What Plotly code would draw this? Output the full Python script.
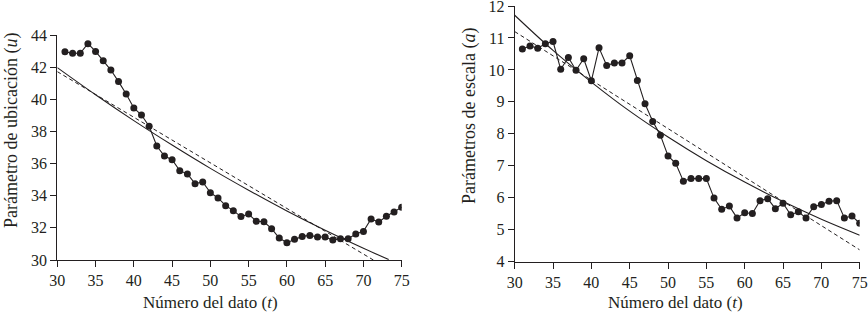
import plotly.graph_objects as go

# ---- data ----
t = list(range(31, 76))
u_vals = [42.96, 42.86, 42.86, 43.46, 42.98, 42.40, 41.82, 41.10, 40.33, 39.46,
          39.02, 38.32, 37.09, 36.47, 36.24, 35.56, 35.35, 34.75, 34.85, 34.19,
          33.86, 33.38, 33.07, 32.70, 32.86, 32.41, 32.38, 31.95, 31.37, 31.08,
          31.29, 31.47, 31.53, 31.43, 31.43, 31.24, 31.33, 31.33, 31.62, 31.78,
          32.55, 32.36, 32.72, 32.99, 33.28]
a_vals = [10.655, 10.75, 10.68, 10.82, 10.89, 10.02, 10.39, 9.99, 10.35, 9.66,
          10.69, 10.14, 10.22, 10.22, 10.44, 9.67, 8.94, 8.39, 7.96, 7.31,
          7.08, 6.52, 6.60, 6.60, 6.60, 5.99, 5.64, 5.74, 5.37, 5.53,
          5.51, 5.91, 5.97, 5.66, 5.83, 5.47, 5.56, 5.37, 5.72, 5.79,
          5.89, 5.91, 5.37, 5.43, 5.20]

u_fit_t = [30, 35, 40, 45, 50, 55, 60, 65, 70, 73.3]
u_fit = [41.97, 40.28, 38.67, 37.15, 35.70, 34.34, 33.05, 31.85, 30.73, 30.03]
u_lin_t = [30, 71.3]
u_lin = [41.72, 30.0]

a_fit_t = [30, 35, 40, 45, 50, 55, 60, 65, 70, 75]
a_fit = [11.71, 10.61, 9.62, 8.71, 7.90, 7.16, 6.49, 5.88, 5.33, 4.83]
a_lin_t = [30, 75]
a_lin = [11.20, 4.37]

x_ticks = [30, 35, 40, 45, 50, 55, 60, 65, 70, 75]
u_ticks = [30, 32, 34, 36, 38, 40, 42, 44]
a_ticks = [4, 5, 6, 7, 8, 9, 10, 11, 12]

INK = "#231f20"
FONT = "Liberation Serif"

fig = go.Figure()

# left panel
fig.add_trace(go.Scatter(x=u_fit_t, y=u_fit, mode="lines", line=dict(color=INK, width=1.1, shape="spline"),
                         xaxis="x", yaxis="y", showlegend=False))
fig.add_trace(go.Scatter(x=u_lin_t, y=u_lin, mode="lines", line=dict(color=INK, width=1, dash="4px,3px"),
                         xaxis="x", yaxis="y", showlegend=False))
fig.add_trace(go.Scatter(x=t, y=u_vals, mode="lines+markers", line=dict(color=INK, width=1.1),
                         marker=dict(color=INK, size=7), xaxis="x", yaxis="y", showlegend=False))

# right panel
fig.add_trace(go.Scatter(x=a_fit_t, y=a_fit, mode="lines", line=dict(color=INK, width=1.1, shape="spline"),
                         xaxis="x2", yaxis="y2", showlegend=False))
fig.add_trace(go.Scatter(x=a_lin_t, y=a_lin, mode="lines", line=dict(color=INK, width=1, dash="4px,3px"),
                         xaxis="x2", yaxis="y2", showlegend=False))
fig.add_trace(go.Scatter(x=t, y=a_vals, mode="lines+markers", line=dict(color=INK, width=1.1),
                         marker=dict(color=INK, size=7), xaxis="x2", yaxis="y2", showlegend=False))

W, H = 868, 313

def px(xp):
    return xp / W

def py(yp):
    return (H - yp) / H

def ax(domain, rng, ticks, anchor):
    return dict(domain=domain, range=rng, tickvals=ticks, ticktext=[str(v) for v in ticks],
                showline=True, linecolor=INK, linewidth=1.2, ticks="outside", ticklen=6,
                tickwidth=1.2, tickcolor=INK, showgrid=False, zeroline=False, anchor=anchor,
                automargin=False, ticklabeloverflow="allow",
                tickfont=dict(family=FONT, size=16, color=INK), fixedrange=True)

def label(text, x, y, size, angle=0):
    return dict(text=text, x=px(x), y=py(y), xref="paper", yref="paper", xanchor="center",
                yanchor="middle", showarrow=False, textangle=angle,
                font=dict(family=FONT, size=size, color=INK))

fig.update_layout(
    template="none",
    width=W, height=H,
    margin=dict(l=0, r=0, t=0, b=0, pad=0),
    paper_bgcolor="white", plot_bgcolor="white",
    xaxis=ax([px(57.3), px(401.7)], [30, 75], x_ticks, "y"),
    yaxis=ax([py(260), py(35)], [30, 44], u_ticks, "x"),
    xaxis2=ax([px(514.7), px(859.7)], [30, 75], x_ticks, "y2"),
    yaxis2=ax([py(261.7), py(6)], [4, 12], a_ticks, "x2"),
    annotations=[
        label("Número del dato (<i>t</i>)", 210, 302, 17),
        label("Número del dato (<i>t</i>)", 675, 302, 17),
        label("Parámetro de ubicación (<i>u</i>)", 11, 131, 18, -90),
        label("Parámetros de escala (<i>a</i>)", 469, 116, 18, -90),
    ],
)

fig.write_html("out.html", config={"displayModeBar": False},
               post_script="document.body.style.margin='0';")
